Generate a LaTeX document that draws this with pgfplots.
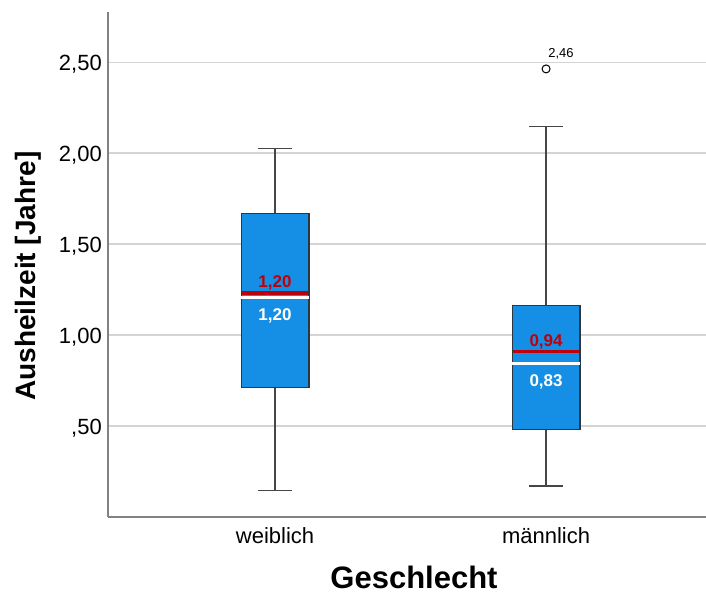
\documentclass[border=0pt]{standalone}
\usepackage{fontspec}
\setmainfont{Liberation Sans}
\usepackage{pgfplots}
\pgfplotsset{compat=1.18}
\usepgfplotslibrary{statistics}
\definecolor{boxblue}{RGB}{21,143,230}
\definecolor{boxedge}{RGB}{45,55,65}
\definecolor{whisk}{RGB}{70,70,70}
\definecolor{meanred}{RGB}{190,0,10}
\definecolor{gridgray}{RGB}{212,212,212}
\definecolor{axgray}{RGB}{130,130,130}
\begin{document}
\begin{tikzpicture}
\begin{axis}[
  name=ax,
  at={(0,0)}, anchor=south west,
  scale only axis,
  width=598pt, height=505pt,
  xmin=0.3838, xmax=2.59,
  ymin=0, ymax=2.777,
  axis x line*=bottom, axis y line*=left,
  axis line style={draw=axgray, line width=1.3pt},
  xtick={1,2}, xticklabels={weiblich,männlich},
  ytick={0.5,1,1.5,2,2.5},
  yticklabels={{,50},{1,00},{1,50},{2,00},{2,50}},
  major tick length=0pt,
  ymajorgrids,
  major grid style={draw=gridgray, line width=1.6pt},
  x tick label style={font=\fontsize{22}{26}\selectfont, inner sep=0pt, anchor=base, yshift=-27pt},
  y tick label style={font=\fontsize{22}{26}\selectfont, inner sep=0pt, anchor=base east, xshift=-6pt, yshift=-8pt},
  xlabel={Geschlecht},
  ylabel={Ausheilzeit [Jahre]},
  every axis x label/.style={at={(axis description cs:0.5117,0)}, anchor=base, inner sep=0pt, yshift=-71pt, font=\fontsize{31}{36}\selectfont\bfseries},
  every axis y label/.style={at={(axis description cs:-0.1338,0.477)}, anchor=center, rotate=90, font=\fontsize{28}{32}\selectfont\bfseries},
  boxplot/draw direction=y,
  boxplot/box extend=0.25,
  boxplot/whisker extend=0.125,
  boxplot/every box/.style={fill=boxblue, draw=boxedge, line width=1.2pt},
  boxplot/every whisker/.style={draw=whisk, line width=1.3pt},
  boxplot/every median/.style={draw=white, line width=2.4pt},
  clip=false,
]
% weiblich
\addplot[boxplot prepared={median=1.208, upper quartile=1.669, lower quartile=0.714,
  upper whisker=2.027, lower whisker=0.144, draw position=1}] coordinates {};
% maennlich
\addplot[boxplot prepared={median=0.843, upper quartile=1.162, lower quartile=0.483,
  upper whisker=2.148, lower whisker=0.171, draw position=2},
  mark=o, mark size=4pt, mark options={draw=black, line width=1pt, fill=white}] coordinates {(0,2.464)};
% red lines (mean)
\addplot[draw=meanred, line width=3.2pt, mark=none] coordinates {(0.8775,1.232) (1.1225,1.232)};
\addplot[draw=meanred, line width=3.2pt, mark=none] coordinates {(1.8775,0.909) (2.1225,0.909)};
% value labels
\node[anchor=base, text=meanred, font=\fontsize{17}{20}\selectfont\bfseries] at (axis cs:1,1.264) {1,20};
\node[anchor=base, text=white, font=\fontsize{17}{20}\selectfont\bfseries] at (axis cs:1,1.078) {1,20};
\node[anchor=base, text=meanred, font=\fontsize{17}{20}\selectfont\bfseries] at (axis cs:2,0.940) {0,94};
\node[anchor=base, text=white, font=\fontsize{17}{20}\selectfont\bfseries] at (axis cs:2,0.720) {0,83};
\node[anchor=base west, inner sep=0pt, font=\fontsize{13}{15}\selectfont] at (axis cs:2,2.526) {\hspace{2pt}2,46};
\end{axis}
\pgfresetboundingbox
\path[use as bounding box] ([xshift=-108pt,yshift=-79pt]ax.south west) rectangle ([yshift=12pt]ax.north east);
\end{tikzpicture}
\end{document}
